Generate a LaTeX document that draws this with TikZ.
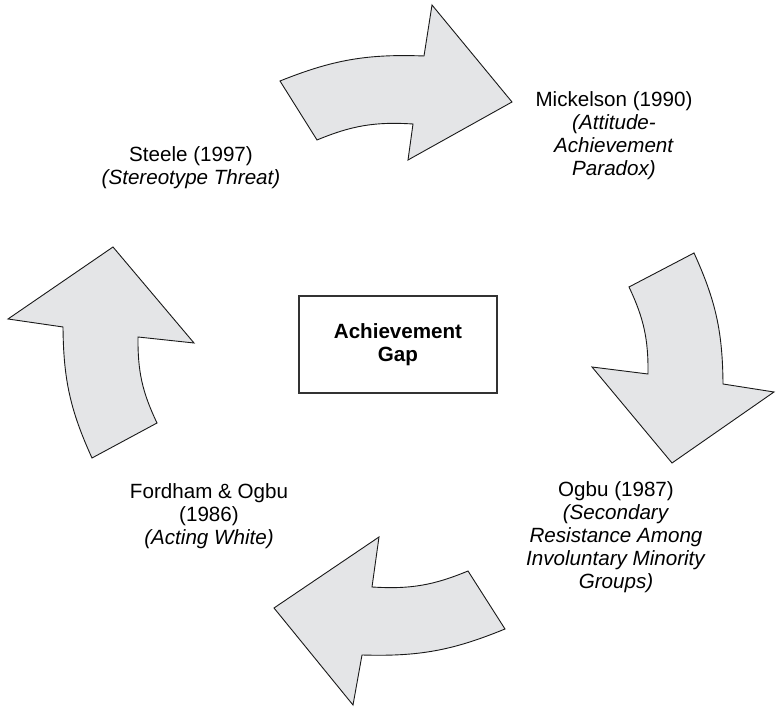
\documentclass[tikz,border=0pt]{standalone}
\usepackage{fontspec}
\setmainfont{Liberation Sans}
\usetikzlibrary{positioning}
\definecolor{arrowFill}{RGB}{228,229,231}

\begin{document}
\begin{tikzpicture}[x=1pt, y=1pt,
    cycarrow/.style={fill=arrowFill, draw=black!90, line width=0.9pt, line join=miter},
    author/.style={align=center, inner sep=0pt, font=\fontsize{20.6}{23}\selectfont},
    core/.style={rectangle, draw=black!80, line width=1.6pt, minimum width=198, minimum height=97,
      align=center, font=\fontsize{20.6}{23}\selectfont\bfseries}]
  \useasboundingbox (0,0) rectangle (776,708);
  % centre box
  \node[core] (gap) at (398,363.5) {Achievement\\Gap};
  % the four authors round it
  \node[author] (steele) at (191,540) {Steele (1997)\\\textit{(Stereotype Threat)}};
  \node[author] (mickelson) at (614,572) {Mickelson (1990)\\\textit{(Attitude-}\\\textit{Achievement}\\\textit{Paradox)}};
  \node[author] (ogbu) at (616,171) {Ogbu (1987)\\\textit{(Secondary}\\\textit{Resistance Among}\\\textit{Involuntary Minority}\\\textit{Groups)}};
  \node[author] (fordham) at (209,192) {Fordham \& Ogbu\\(1986)\\\textit{(Acting White)}};
  % curved block arrows, clockwise
  \draw[cycarrow] (280,627) to[bend left=12] (424,652) -- (432,703) -- (512,606) -- (408,548)
    -- (413,584) to[bend right=13] (317,568) -- cycle;
  \draw[cycarrow] (694,455) to[bend left=12] (723,324) -- (774,316) -- (672,245) -- (592,341)
    -- (648,334) to[bend right=13] (629,421) -- cycle;
  \draw[cycarrow] (505,79) to[bend left=12] (362,53) -- (353,3) -- (274,100) -- (379,171)
    -- (372,121) to[bend right=13] (468,137) -- cycle;
  \draw[cycarrow] (92,250) to[bend left=12] (63,381) -- (8,389) -- (113,461) -- (194,365)
    -- (138,371) to[bend right=13] (157,285) -- cycle;
\end{tikzpicture}
\end{document}
